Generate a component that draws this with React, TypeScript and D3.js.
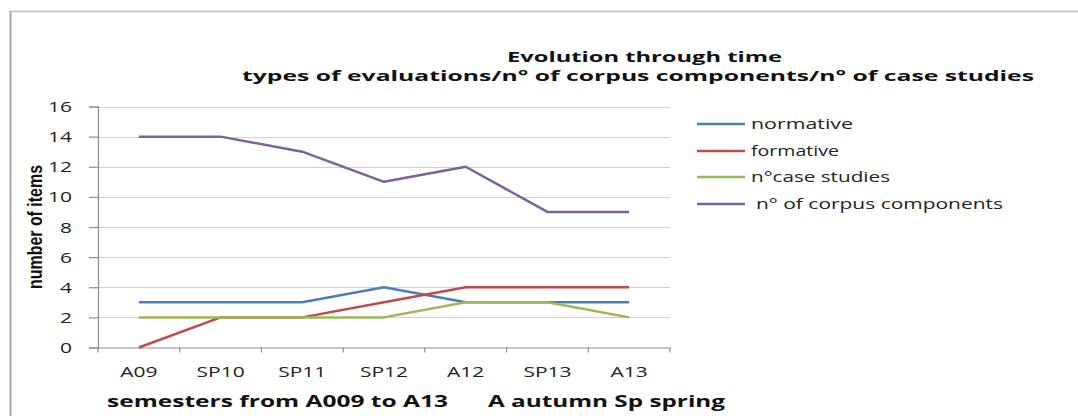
import React, { useEffect, useRef } from "react";
import * as d3 from "d3";

// Chart data
const semesters = ["A09", "SP10", "SP11", "SP12", "A12", "SP13", "A13"];
const normative = [3, 3, 3, 4, 3, 3, 3];
const formative = [0, 2, 2, 3, 4, 4, 4];
const caseStudies = [2, 2, 2, 2, 3, 3, 2];
const corpusComponents = [14, 14, 13, 11, 12, 9, 9];
const yTicks = [0, 2, 4, 6, 8, 10, 12, 14, 16];

const seriesNames = ["normative", "formative", "n°case studies", " n° of corpus components"];
const seriesColors = ["#4a7ebb", "#be4b48", "#98b954", "#7d60a0"];

const FONT = "'Open Sans', 'DejaVu Sans', sans-serif";
const STRETCH = 1.5; // reference text is stretched horizontally

const App: React.FC = () => {
  const svgRef = useRef<SVGSVGElement | null>(null);

  useEffect(() => {
    const svg = d3.select(svgRef.current);
    svg.selectAll("*").remove();

    const width = 1078;
    const height = 416;
    const plot = { left: 98, right: 670, top: 106.5, bottom: 347.5 };

    svg.append("rect").attr("width", width).attr("height", height).attr("fill", "#fff");

    // outer frame (top and left edges visible)
    svg.append("line").attr("x1", 10).attr("x2", width).attr("y1", 11.5).attr("y2", 11.5)
      .attr("stroke", "#bfbfbf").attr("stroke-width", 1.5);
    svg.append("line").attr("x1", 10.5).attr("x2", 10.5).attr("y1", 11).attr("y2", height)
      .attr("stroke", "#a6a6a6").attr("stroke-width", 2);

    const x = d3.scaleBand().domain(semesters).range([plot.left, plot.right]);
    const y = d3.scaleLinear().domain([0, 16]).range([plot.bottom, plot.top]);

    // gridlines
    svg.append("g")
      .selectAll("line")
      .data(yTicks.filter((t) => t > 0))
      .enter()
      .append("line")
      .attr("x1", plot.left)
      .attr("x2", plot.right)
      .attr("y1", (d) => Math.round(y(d)) + 0.5)
      .attr("y2", (d) => Math.round(y(d)) + 0.5)
      .attr("stroke", "#d0d0d0")
      .attr("stroke-width", 1.2);

    // y axis
    const yAxis = svg.append("g")
      .attr("transform", `translate(${plot.left},0)`)
      .call(d3.axisLeft(y).tickValues(yTicks).tickSize(9).tickPadding(0).tickFormat(d3.format("d")));
    yAxis.select(".domain").attr("stroke", "#8c8c8c").attr("stroke-width", 1.2);
    yAxis.selectAll(".tick line").attr("stroke", "#8c8c8c").attr("stroke-width", 1.2);
    yAxis.selectAll(".tick text")
      .attr("x", -26 / STRETCH)
      .attr("dy", "0.36em")
      .attr("transform", `scale(${STRETCH},1)`)
      .style("font-family", FONT)
      .style("font-size", "14px")
      .attr("fill", "#222");

    // x axis
    const xAxis = svg.append("g")
      .attr("transform", `translate(0,${plot.bottom})`)
      .call(d3.axisBottom(x).tickSize(0).tickPadding(0));
    xAxis.select(".domain").attr("stroke", "#8c8c8c").attr("stroke-width", 1.2);
    xAxis.selectAll(".tick text")
      .attr("y", 29.5)
      .attr("dy", 0)
      .attr("transform", `scale(${STRETCH},1)`)
      .style("font-family", FONT)
      .style("font-size", "14px")
      .attr("fill", "#222");
    // tick marks at category boundaries
    xAxis.selectAll(".bound")
      .data(d3.range(semesters.length + 1))
      .enter()
      .append("line")
      .attr("x1", (i) => plot.left + i * x.step())
      .attr("x2", (i) => plot.left + i * x.step())
      .attr("y1", 0)
      .attr("y2", 5)
      .attr("stroke", "#8c8c8c")
      .attr("stroke-width", 1.2);

    // lines
    const allSeries = [normative, formative, caseStudies, corpusComponents];
    const line = d3.line<number>()
      .x((_, i) => (x(semesters[i]) as number) + x.bandwidth() / 2)
      .y((d) => y(d));
    allSeries.forEach((values, i) => {
      svg.append("path")
        .datum(values)
        .attr("d", line)
        .attr("fill", "none")
        .attr("stroke", seriesColors[i])
        .attr("stroke-width", 2.5)
        .attr("stroke-linejoin", "round");
    });

    // legend
    const legendRows = [124, 151, 177, 204];
    const legendWidths = [102, 88, 139, 247];
    seriesNames.forEach((name, i) => {
      svg.append("line")
        .attr("x1", 697).attr("x2", 745)
        .attr("y1", legendRows[i]).attr("y2", legendRows[i])
        .attr("stroke", seriesColors[i]).attr("stroke-width", 2.5);
      svg.append("text")
        .attr("x", i === 3 ? 756 : 751)
        .attr("y", legendRows[i] + 5)
        .attr("textLength", legendWidths[i])
        .attr("lengthAdjust", "spacingAndGlyphs")
        .style("font-family", FONT)
        .style("font-size", "14.5px")
        .attr("fill", "#222")
        .text(name.trim());
    });

    // title
    svg.append("text")
      .attr("x", 507).attr("y", 62)
      .attr("textLength", 275).attr("lengthAdjust", "spacingAndGlyphs")
      .style("font-family", FONT).style("font-size", "15px").style("font-weight", "bold")
      .attr("fill", "#111")
      .text("Evolution through time");
    svg.append("text")
      .attr("x", 242).attr("y", 81)
      .attr("textLength", 792).attr("lengthAdjust", "spacingAndGlyphs")
      .style("font-family", FONT).style("font-size", "15px").style("font-weight", "bold")
      .attr("fill", "#111")
      .text("types of evaluations/n° of corpus components/n° of case studies");

    // axis titles
    svg.append("text")
      .attr("transform", "translate(42,289) rotate(-90)")
      .attr("textLength", 124).attr("lengthAdjust", "spacingAndGlyphs")
      .style("font-family", "'Liberation Sans Narrow', 'Liberation Sans', sans-serif")
      .style("font-size", "20px")
      .style("font-weight", "bold")
      .attr("fill", "#111")
      .text("number of items");
    svg.append("text")
      .attr("x", 107).attr("y", 407)
      .attr("textLength", 341).attr("lengthAdjust", "spacingAndGlyphs")
      .style("font-family", FONT).style("font-size", "16px").style("font-weight", "bold")
      .attr("fill", "#111")
      .text("semesters from A009 to A13");
    svg.append("text")
      .attr("x", 488).attr("y", 407)
      .attr("textLength", 237).attr("lengthAdjust", "spacingAndGlyphs")
      .style("font-family", FONT).style("font-size", "16px").style("font-weight", "bold")
      .attr("fill", "#111")
      .text("A autumn Sp spring");
  }, []);

  return (
    <svg
      ref={svgRef}
      width={1078}
      height={416}
      style={{ position: "fixed", left: 0, top: 0, display: "block" }}
    />
  );
};

export default App;
